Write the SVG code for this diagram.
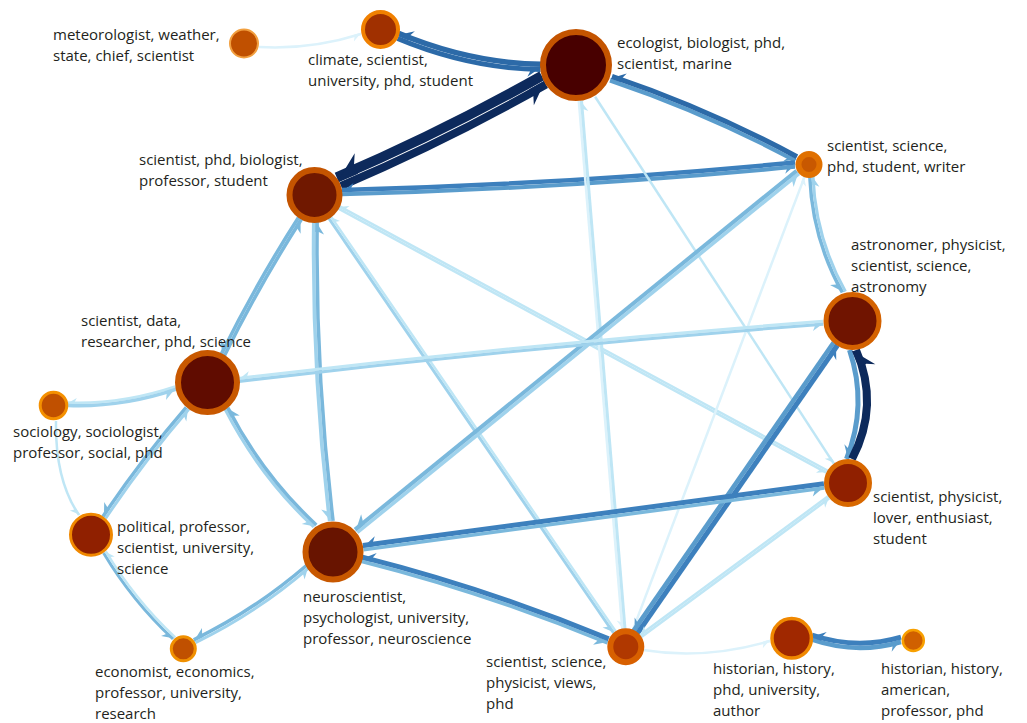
<svg xmlns="http://www.w3.org/2000/svg" width="1027" height="723" viewBox="0 0 1027 723">
<style>
.e{fill:none;stroke-linecap:butt}
.nv{stroke:#0d2a5c}.b1{stroke:#2c6aa8}.b2{stroke:#3d80bd}.b3{stroke:#5a9ccc}.b4{stroke:#7ab8dc}.b5{stroke:#9fd2ec}.b6{stroke:#bfe6f5}.b7{stroke:#dcf2fb}
.nv{marker-end:url(#m-nv)}.b1{marker-end:url(#m-b1)}.b2{marker-end:url(#m-b2)}.b3{marker-end:url(#m-b3)}.b4{marker-end:url(#m-b4)}.b5{marker-end:url(#m-b5)}.b6{marker-end:url(#m-b6)}.b7{marker-end:url(#m-b7)}
text{font-family:"Open Sans","Liberation Sans",sans-serif;font-size:15px;fill:#231f20}
</style>
<defs>
<marker id="m-nv" viewBox="-3 -1 3.3 3" refX="0" refY="0" markerWidth="3.3" markerHeight="3" orient="auto" markerUnits="strokeWidth" overflow="visible"><path d="M0.2,-0.5 L-2.6,1.5 L-2.1,0.5 L-2.1,-0.5Z" fill="#0d2a5c"/></marker>
<marker id="m-b1" viewBox="-3 -1 3.3 3" refX="0" refY="0" markerWidth="3.3" markerHeight="3" orient="auto" markerUnits="strokeWidth" overflow="visible"><path d="M0.2,-0.5 L-2.6,1.5 L-2.1,0.5 L-2.1,-0.5Z" fill="#2c6aa8"/></marker>
<marker id="m-b2" viewBox="-3 -1 3.3 3" refX="0" refY="0" markerWidth="3.3" markerHeight="3" orient="auto" markerUnits="strokeWidth" overflow="visible"><path d="M0.2,-0.5 L-2.6,1.5 L-2.1,0.5 L-2.1,-0.5Z" fill="#3d80bd"/></marker>
<marker id="m-b3" viewBox="-3 -1 3.3 3" refX="0" refY="0" markerWidth="3.3" markerHeight="3" orient="auto" markerUnits="strokeWidth" overflow="visible"><path d="M0.2,-0.5 L-2.6,1.5 L-2.1,0.5 L-2.1,-0.5Z" fill="#5a9ccc"/></marker>
<marker id="m-b4" viewBox="-4 -1 4.4 3.5" refX="0" refY="0" markerWidth="4.4" markerHeight="3.5" orient="auto" markerUnits="strokeWidth" overflow="visible"><path d="M0.3,-0.5 L-3.6,2 L-2.9,0.5 L-2.9,-0.5Z" fill="#7ab8dc"/></marker>
<marker id="m-b5" viewBox="-4 -1 4.4 3.5" refX="0" refY="0" markerWidth="4.4" markerHeight="3.5" orient="auto" markerUnits="strokeWidth" overflow="visible"><path d="M0.3,-0.5 L-3.6,2 L-2.9,0.5 L-2.9,-0.5Z" fill="#9fd2ec"/></marker>
<marker id="m-b6" viewBox="-4 -1 4.4 3.5" refX="0" refY="0" markerWidth="4.4" markerHeight="3.5" orient="auto" markerUnits="strokeWidth" overflow="visible"><path d="M0.3,-0.5 L-3.6,2 L-2.9,0.5 L-2.9,-0.5Z" fill="#bfe6f5"/></marker>
<marker id="m-b7" viewBox="-4 -1 4.4 3.5" refX="0" refY="0" markerWidth="4.4" markerHeight="3.5" orient="auto" markerUnits="strokeWidth" overflow="visible"><path d="M0.3,-0.5 L-3.6,2 L-2.9,0.5 L-2.9,-0.5Z" fill="#dcf2fb"/></marker>
</defs>
<rect width="1027" height="723" fill="#ffffff"/>
<g id="connectors">
<path class="e b7" stroke-width="2.5" d="M259,47 Q310,50 361,34"/>
<path class="e b1" stroke-width="5" d="M397.5,38.5 Q469.5,68.5 540.5,69.5"/>
<path class="e b1" stroke-width="5.5" d="M541.5,64.3 Q470.5,63.3 398.5,33.3"/>
<path class="e nv" stroke-width="8" d="M341,186 Q446.5,141 546,84.5"/>
<path class="e nv" stroke-width="10" d="M541.8,75.8 Q441.8,132.3 336.7,177.3"/>
<path class="e b3" stroke-width="4" d="M610,80.5 Q705.7,112.8 795.2,160.8"/>
<path class="e b1" stroke-width="5" d="M797,156.7 Q707.5,108.7 612,76.4"/>
<path class="e b3" stroke-width="4" d="M342,194.3 Q568.6,188.5 795,166.8"/>
<path class="e b2" stroke-width="4.5" d="M795,162.5 Q568.4,184.2 342,190"/>
<path class="e b4" stroke-width="3.5" d="M298.5,217.5 Q256,283.8 221.3,354.1"/>
<path class="e b4" stroke-width="3.5" d="M224.3,355.9 Q259,285.6 301.5,219.3"/>
<path class="e b5" stroke-width="3.5" d="M313.7,222.1 Q311.7,371.1 329.6,521.1"/>
<path class="e b4" stroke-width="3.5" d="M333.1,520.9 Q315.2,370.9 317.2,221.9"/>
<path class="e b6" stroke-width="2.5" d="M338,208.4 L826.3,472.7"/>
<path class="e b6" stroke-width="2.5" d="M827.5,470.5 L339.2,206.2"/>
<path class="e b5" stroke-width="3" d="M328.6,218 L613.6,633"/>
<path class="e b6" stroke-width="2.5" d="M615.8,631.5 L330.8,216.4"/>
<path class="e b7" stroke-width="2.5" d="M578.8,101 L622.3,629.1"/>
<path class="e b6" stroke-width="3" d="M625,628.9 L581.5,100.8"/>
<path class="e b6" stroke-width="2.5" d="M595.1,96.7 L833.8,463.6"/>
<path class="e b4" stroke-width="3.5" d="M809.8,177 Q812.3,238.5 842.3,292.5"/>
<path class="e b5" stroke-width="3" d="M845.4,291.6 Q815.4,237.6 813,176.1"/>
<path class="e b7" stroke-width="2.5" d="M632.6,630.6 L804.6,176.6"/>
<path class="e b5" stroke-width="3.5" d="M357.4,532.5 L799,173.6"/>
<path class="e b4" stroke-width="4" d="M796.6,170.7 L355,529.6"/>
<path class="e b6" stroke-width="3" d="M823,321.3 Q530.9,343.5 238.7,378.4"/>
<path class="e b5" stroke-width="3" d="M239,381.4 Q531.1,346.5 823.3,324.3"/>
<path class="e b3" stroke-width="5" d="M849.5,350 Q868,405 846.5,459"/>
<path class="e nv" stroke-width="8" d="M852,459 Q880,405 856,350"/>
<path class="e b3" stroke-width="4.5" d="M833.6,342.5 L633.5,630.9"/>
<path class="e b2" stroke-width="5" d="M637.3,633.6 L837.5,345.2"/>
<path class="e b2" stroke-width="5" d="M823.9,483.7 L362.9,545.5"/>
<path class="e b4" stroke-width="3.5" d="M363.4,549.7 L824.4,487.9"/>
<path class="e b6" stroke-width="2.5" d="M641.2,637.3 L829.4,498.3"/>
<path class="e b6" stroke-width="2.5" d="M828,496.3 L639.8,635.3"/>
<path class="e b6" stroke-width="2.5" d="M175.2,386.5 Q121.4,404.6 67.6,402.6"/>
<path class="e b5" stroke-width="3.5" d="M68.1,405.5 Q121.9,407.5 175.7,389.4"/>
<path class="e b4" stroke-width="3.5" d="M186.2,407.3 Q141.6,458.9 103,516.4"/>
<path class="e b5" stroke-width="3" d="M105.6,518.4 Q144.2,460.9 188.8,409.3"/>
<path class="e b5" stroke-width="3" d="M225.1,409.4 Q259.4,476.2 313.7,527"/>
<path class="e b4" stroke-width="3.5" d="M316.3,525 Q262,474.3 227.7,407.5"/>
<path class="e b6" stroke-width="2.5" d="M56,421 Q55,480 79,515"/>
<path class="e b4" stroke-width="3" d="M103.6,553 Q132.3,601 173,639"/>
<path class="e b6" stroke-width="2.5" d="M175.2,637.3 Q134.5,599.2 105.8,551.3"/>
<path class="e b4" stroke-width="3.5" d="M307,565 Q254.4,610.4 193.7,639.8"/>
<path class="e b5" stroke-width="3" d="M195.5,642.6 Q256.2,613.2 308.8,567.8"/>
<path class="e b4" stroke-width="3.5" d="M361,561.2 Q487.2,593.1 607.4,643"/>
<path class="e b2" stroke-width="5" d="M608.7,638.9 Q488.5,589 362.3,557.1"/>
<path class="e b7" stroke-width="2.5" d="M643,650 Q705,660 770,641"/>
<path class="e b3" stroke-width="4.5" d="M812,639.7 Q856.5,654.9 901,642"/>
<path class="e b2" stroke-width="5" d="M901,637.2 Q856.5,650.1 812,635"/>
</g>
<g id="node-meteorologist"><circle cx="244" cy="43.5" r="14" fill="#c05000" stroke="#f2a040" stroke-width="2"/><text x="53" y="40">meteorologist, weather,</text><text x="53" y="61">state, chief, scientist</text></g>
<g id="node-climate"><circle cx="380.5" cy="29.5" r="17.5" fill="#a03000" stroke="#f08000" stroke-width="4"/><text x="308" y="65">climate, scientist,</text><text x="308" y="86">university, phd, student</text></g>
<g id="node-ecologist"><circle cx="576" cy="65" r="33" fill="#480000" stroke="#c45400" stroke-width="6"/><text x="617" y="48">ecologist, biologist, phd,</text><text x="617" y="69">scientist, marine</text></g>
<g id="node-biologist"><circle cx="314.5" cy="195" r="25" fill="#701800" stroke="#c45400" stroke-width="6"/><text x="139" y="165">scientist, phd, biologist,</text><text x="139" y="186">professor, student</text></g>
<g id="node-writer"><circle cx="809" cy="164.5" r="10.5" fill="#c85800" stroke="#e07000" stroke-width="6"/><text x="827" y="151">scientist, science,</text><text x="827" y="172">phd, student, writer</text></g>
<g id="node-astronomer"><circle cx="852.5" cy="321" r="26.5" fill="#701400" stroke="#d46200" stroke-width="5"/><text x="851" y="250">astronomer, physicist,</text><text x="851" y="271">scientist, science,</text><text x="851" y="292">astronomy</text></g>
<g id="node-data"><circle cx="207.5" cy="382.5" r="29.5" fill="#600c00" stroke="#c85800" stroke-width="6"/><text x="81" y="326">scientist, data,</text><text x="81" y="347">researcher, phd, science</text></g>
<g id="node-sociology"><circle cx="53.5" cy="405.5" r="13.3" fill="#c05000" stroke="#f49000" stroke-width="3"/><text x="13" y="437">sociology, sociologist,</text><text x="13" y="458">professor, social, phd</text></g>
<g id="node-political"><circle cx="91" cy="534.7" r="20.5" fill="#902000" stroke="#f08800" stroke-width="3"/><text x="117" y="532">political, professor,</text><text x="117" y="553">scientist, university,</text><text x="117" y="574">science</text></g>
<g id="node-neuroscientist"><circle cx="333" cy="552" r="27.5" fill="#681400" stroke="#c85800" stroke-width="6"/><text x="303" y="602">neuroscientist,</text><text x="303" y="623">psychologist, university,</text><text x="303" y="644">professor, neuroscience</text></g>
<g id="node-economist"><circle cx="183.3" cy="648.8" r="12" fill="#c05000" stroke="#f09000" stroke-width="3"/><text x="95" y="677">economist, economics,</text><text x="95" y="698">professor, university,</text><text x="95" y="719">research</text></g>
<g id="node-physicist-lover"><circle cx="848" cy="483" r="21.5" fill="#902000" stroke="#d86800" stroke-width="5"/><text x="873" y="502">scientist, physicist,</text><text x="873" y="523">lover, enthusiast,</text><text x="873" y="544">student</text></g>
<g id="node-physicist-views"><circle cx="625.8" cy="646.7" r="15.5" fill="#b03800" stroke="#d86000" stroke-width="6"/><text x="486" y="667">scientist, science,</text><text x="486" y="688">physicist, views,</text><text x="486" y="709">phd</text></g>
<g id="node-historian-author"><circle cx="791.7" cy="638.3" r="19.7" fill="#a02800" stroke="#f08800" stroke-width="3.5"/><text x="713" y="674">historian, history,</text><text x="713" y="695">phd, university,</text><text x="713" y="716">author</text></g>
<g id="node-historian-american"><circle cx="913.3" cy="640.5" r="10.5" fill="#d06000" stroke="#f8a000" stroke-width="2.5"/><text x="881" y="674">historian, history,</text><text x="881" y="695">american,</text><text x="881" y="716">professor, phd</text></g>
</svg>
